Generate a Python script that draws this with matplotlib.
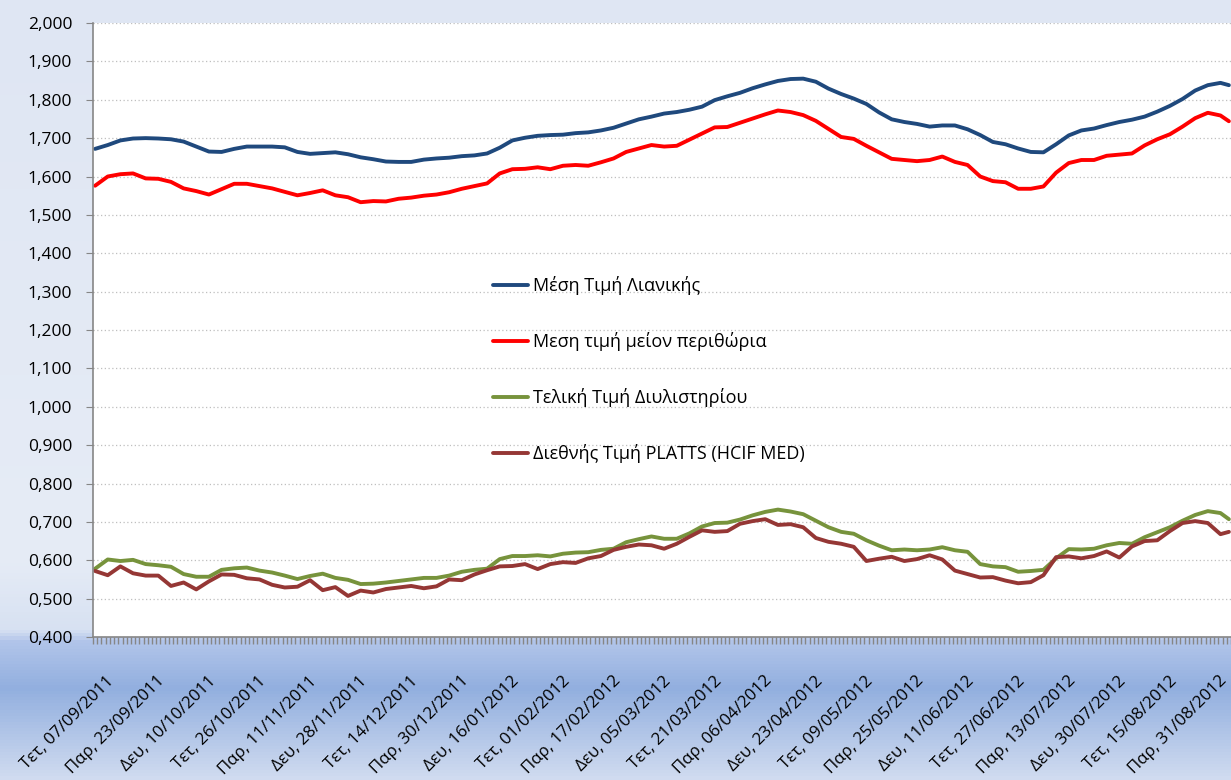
import numpy as np
import matplotlib
matplotlib.use("Agg")
import matplotlib.pyplot as plt
from matplotlib.colors import LinearSegmentedColormap, to_rgb
from matplotlib.transforms import ScaledTranslation

plt.rcParams['font.family'] = ['Open Sans', 'DejaVu Sans']

# category axis: 270 trading days, label every 12th day
n_days = 270
date_labels = ["Τετ, 07/09/2011", "Παρ, 23/09/2011", "Δευ, 10/10/2011", "Τετ, 26/10/2011",
               "Παρ, 11/11/2011", "Δευ, 28/11/2011", "Τετ, 14/12/2011", "Παρ, 30/12/2011",
               "Δευ, 16/01/2012", "Τετ, 01/02/2012", "Παρ, 17/02/2012", "Δευ, 05/03/2012",
               "Τετ, 21/03/2012", "Παρ, 06/04/2012", "Δευ, 23/04/2012", "Τετ, 09/05/2012",
               "Παρ, 25/05/2012", "Δευ, 11/06/2012", "Τετ, 27/06/2012", "Παρ, 13/07/2012",
               "Δευ, 30/07/2012", "Τετ, 15/08/2012", "Παρ, 31/08/2012"]
label_step = 12

# values read every 3rd day (plus the last day)
sample_idx = list(range(0, 268, 3)) + [269]

retail = [1.672, 1.682, 1.694, 1.699, 1.700, 1.699, 1.697, 1.691, 1.678, 1.665, 1.664, 1.672,
          1.678, 1.678, 1.678, 1.676, 1.664, 1.659, 1.661, 1.663, 1.658, 1.650, 1.645, 1.639,
          1.638, 1.638, 1.644, 1.647, 1.649, 1.653, 1.655,
          1.660, 1.675, 1.694, 1.701, 1.706, 1.708, 1.709, 1.713, 1.715, 1.720, 1.727, 1.738,
          1.749, 1.756, 1.764, 1.768, 1.774, 1.782, 1.799, 1.809, 1.818, 1.830, 1.840, 1.849,
          1.854, 1.855, 1.847, 1.829, 1.815,
          1.803, 1.789, 1.767, 1.749, 1.742, 1.737, 1.730, 1.733, 1.733, 1.723, 1.708, 1.690,
          1.684, 1.673, 1.664, 1.663, 1.684, 1.707, 1.720, 1.725, 1.734, 1.742, 1.748, 1.756,
          1.769, 1.784, 1.802, 1.824, 1.838, 1.844, 1.838]

minus_margin = [1.576, 1.600, 1.606, 1.608, 1.595, 1.594, 1.586, 1.569, 1.562, 1.553, 1.567, 1.581,
                1.581, 1.575, 1.569, 1.560, 1.551, 1.557, 1.564, 1.551, 1.546, 1.533, 1.536, 1.535,
                1.542, 1.545, 1.550, 1.553, 1.559, 1.568, 1.575,
                1.582, 1.608, 1.619, 1.620, 1.624, 1.619, 1.628, 1.630, 1.628, 1.637, 1.647, 1.664,
                1.673, 1.682, 1.678, 1.680, 1.696, 1.712, 1.728, 1.729, 1.740, 1.751, 1.762, 1.772,
                1.768, 1.760, 1.745, 1.724, 1.703,
                1.698, 1.680, 1.663, 1.646, 1.643, 1.640, 1.643, 1.652, 1.638, 1.630, 1.600, 1.588,
                1.585, 1.568, 1.568, 1.574, 1.610, 1.635, 1.643, 1.643, 1.654, 1.657, 1.660, 1.681,
                1.697, 1.710, 1.730, 1.752, 1.766, 1.759, 1.744]

refinery = [0.578, 0.602, 0.598, 0.601, 0.590, 0.587, 0.583, 0.564, 0.557, 0.557, 0.575, 0.579,
            0.581, 0.573, 0.568, 0.560, 0.551, 0.559, 0.565, 0.554, 0.549, 0.538, 0.539, 0.542,
            0.546, 0.550, 0.554, 0.554, 0.560, 0.570, 0.575,
            0.578, 0.603, 0.611, 0.611, 0.613, 0.610, 0.617, 0.620, 0.621, 0.627, 0.630, 0.647,
            0.655, 0.662, 0.656, 0.656, 0.670, 0.688, 0.697, 0.698, 0.706, 0.717, 0.726, 0.732,
            0.727, 0.720, 0.703, 0.686, 0.674,
            0.669, 0.652, 0.638, 0.626, 0.628, 0.626, 0.628, 0.634, 0.626, 0.622, 0.590, 0.584,
            0.582, 0.570, 0.572, 0.575, 0.605, 0.629, 0.628, 0.630, 0.639, 0.645, 0.643, 0.660,
            0.673, 0.686, 0.703, 0.718, 0.728, 0.723, 0.707]

platts = [0.572, 0.561, 0.584, 0.566, 0.560, 0.560, 0.533, 0.542, 0.524, 0.545, 0.563, 0.562,
          0.553, 0.550, 0.536, 0.529, 0.531, 0.548, 0.522, 0.530, 0.507, 0.521, 0.516, 0.525,
          0.529, 0.533, 0.527, 0.532, 0.550, 0.548, 0.563,
          0.574, 0.584, 0.585, 0.590, 0.577, 0.590, 0.595, 0.593, 0.605, 0.611, 0.627, 0.635,
          0.641, 0.639, 0.630, 0.643, 0.661, 0.678, 0.674, 0.676, 0.695, 0.702, 0.707, 0.692,
          0.694, 0.686, 0.658, 0.648, 0.643,
          0.635, 0.598, 0.604, 0.609, 0.598, 0.603, 0.613, 0.602, 0.573, 0.564, 0.555, 0.556,
          0.547, 0.540, 0.543, 0.561, 0.608, 0.610, 0.605, 0.611, 0.623, 0.607, 0.636, 0.650,
          0.652, 0.676, 0.697, 0.702, 0.697, 0.668, 0.674]

series = [
    ("Μέση Τιμή Λιανικής", retail, "#1f497d"),
    ("Μεση τιμή μείον περιθώρια", minus_margin, "#ff0000"),
    ("Τελική Τιμή Διυλιστηρίου", refinery, "#77933c"),
    ("Διεθνής Τιμή PLATTS (HCIF MED)", platts, "#953735"),
]

W, H = 1231, 780
fig = plt.figure(figsize=(W / 100, H / 100), dpi=100)

# background gradient (excel style)
stops = [(0, "#dfe6f3"), (560, "#e6ecf6"), (632, "#d7e1f2"), (642, "#b2c5ea"),
         (690, "#92afdf"), (780, "#d0dbf0")]
cmap = LinearSegmentedColormap.from_list("bg", [(p / H, to_rgb(c)) for p, c in stops])
bg = fig.add_axes([0, 0, 1, 1], zorder=-10)
bg.imshow(np.linspace(0, 1, H).reshape(-1, 1), cmap=cmap, aspect='auto', extent=[0, 1, 0, 1])
bg.axis('off')

ax = fig.add_axes([93 / W, 1 - 637 / H, 1 - 93 / W, (637 - 23) / H])
ax.set_facecolor('white')

for name, vals, color in series:
    ax.plot(sample_idx, vals, color=color, lw=2.8, label=name, solid_capstyle='round')

ax.set_xlim(-0.5, n_days - 0.5)
ax.set_ylim(0.4, 2.0)
yt = np.arange(0.4, 2.001, 0.1)
ax.set_yticks(yt)
ax.set_yticklabels([f"{v:.3f}".replace('.', ',') for v in yt], fontsize=12.5)
ax.grid(axis='y', color='#bfbfbf', linestyle=(0, (1, 2)), lw=0.9)
ax.set_axisbelow(True)

ax.set_xticks(np.arange(0, n_days, label_step)[:len(date_labels)])
ax.set_xticklabels(date_labels, rotation=45, ha='right', va='center',
                   rotation_mode='anchor', fontsize=12.2)
ax.set_xticks(np.arange(-0.5, n_days, 1), minor=True)
ax.tick_params(axis='x', which='major', length=0, pad=30)
ax.tick_params(axis='x', which='minor', length=5, color='#868686', width=1)
ax.tick_params(axis='y', length=5, color='#868686', labelcolor='black', pad=10)
# excel puts the rotated labels a little to the right of the category
shift = ScaledTranslation(0.17, 0, fig.dpi_scale_trans)
for lab in ax.get_xticklabels():
    lab.set_transform(lab.get_transform() + shift)

for s in ['top', 'right']:
    ax.spines[s].set_visible(False)
for s in ['left', 'bottom']:
    ax.spines[s].set_color('#868686')
    ax.spines[s].set_linewidth(1.2)

leg = ax.legend(loc='upper left', bbox_to_anchor=((486 - 93) / (W - 93), (637 - 269) / 614),
                frameon=False, fontsize=13, handlelength=1.9, handletextpad=0.3,
                labelspacing=2.05, borderaxespad=0)

fig.savefig("out.png", dpi=100)
